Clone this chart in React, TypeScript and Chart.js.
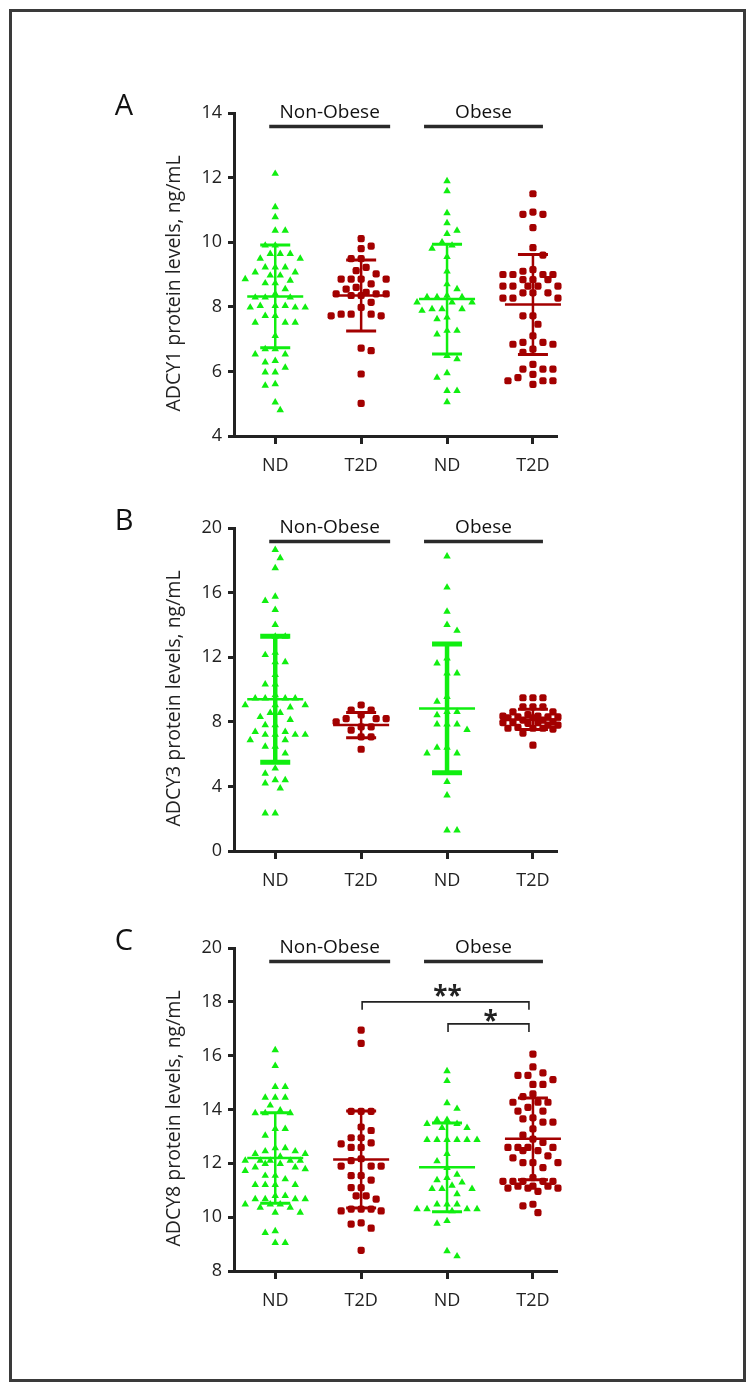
import React, { useEffect, useRef } from 'react';
import { Chart, registerables } from 'chart.js';

Chart.register(...registerables);

// ---------- categories / labels ----------
const categories = ['ND', 'T2D', 'ND', 'T2D'];
const categoryPositions = [1, 2, 3, 4];
const obesityGroups = ['Non-Obese', 'Obese'];

// ---------- Panel A: ADCY1 ----------
const adcy1NdNonObese = [12.12, 11.09, 10.78, 10.36, 10.36, 9.9, 9.9, 9.64, 9.64, 9.64, 9.49, 9.49, 9.22, 9.22, 9.22, 9.07, 9.07, 8.97, 8.97, 8.86, 8.81, 8.73, 8.73, 8.55, 8.4, 8.29, 8.29, 8.29, 8.03, 8.03, 8.03, 7.98, 7.98, 7.98, 7.72, 7.72, 7.51, 7.51, 7.51, 7.1, 6.69, 6.69, 6.53, 6.53, 6.33, 6.28, 6.12, 5.97, 5.97, 5.61, 5.56, 5.04, 4.8];
const adcy1T2dNonObese = [10.11, 9.88, 9.8, 9.49, 9.49, 9.22, 9.12, 9.02, 8.86, 8.86, 8.86, 8.86, 8.71, 8.6, 8.55, 8.45, 8.4, 8.4, 8.4, 8.35, 8.35, 8.14, 7.98, 7.77, 7.77, 7.77, 7.72, 7.72, 6.72, 6.64, 5.92, 5.01];
const adcy1NdObese = [11.89, 11.58, 10.9, 10.59, 10.36, 10.26, 10.0, 9.9, 9.8, 9.55, 9.1, 8.7, 8.55, 8.35, 8.3, 8.3, 8.3, 8.14, 8.14, 8.14, 7.93, 7.93, 7.93, 7.88, 7.67, 7.62, 7.26, 7.26, 7.15, 6.48, 6.38, 5.95, 5.81, 5.4, 5.4, 5.05];
const adcy1T2dObese = [11.5, 10.93, 10.86, 10.86, 10.45, 9.83, 9.6, 9.15, 9.1, 9.0, 9.0, 9.0, 9.0, 9.0, 8.84, 8.84, 8.84, 8.64, 8.64, 8.64, 8.64, 8.64, 8.43, 8.43, 8.43, 8.27, 8.27, 8.27, 7.72, 7.72, 7.46, 7.1, 6.9, 6.9, 6.84, 6.84, 6.69, 6.59, 6.22, 6.07, 6.07, 6.07, 5.91, 5.81, 5.71, 5.71, 5.71, 5.71, 5.6];
const adcy1Means = [8.32, 8.35, 8.24, 8.07];
const adcy1Sds = [1.59, 1.1, 1.7, 1.55];

// ---------- Panel B: ADCY3 ----------
const adcy3NdNonObese = [18.65, 18.14, 17.52, 15.76, 15.49, 14.93, 14.0, 13.28, 13.28, 12.28, 12.14, 11.7, 11.7, 10.9, 10.32, 10.32, 9.66, 9.45, 9.45, 9.45, 9.45, 9.04, 9.04, 9.04, 8.9, 8.55, 8.55, 8.3, 8.12, 7.8, 7.8, 7.38, 7.38, 7.2, 7.2, 7.2, 7.2, 6.87, 6.87, 6.46, 6.46, 6.04, 5.11, 4.8, 4.39, 4.39, 4.19, 3.88, 2.33, 2.33];
const adcy3T2dNonObese = [9.04, 8.73, 8.73, 8.42, 8.2, 8.2, 8.2, 8.0, 7.69, 7.69, 7.49, 7.07, 7.07, 6.3];
const adcy3NdObese = [18.24, 16.32, 14.83, 14.0, 13.64, 11.93, 11.62, 11.0, 11.0, 9.55, 9.25, 8.62, 8.62, 8.42, 7.84, 7.84, 7.84, 7.5, 6.4, 6.4, 6.05, 6.05, 4.28, 3.45, 1.28, 1.28];
const adcy3T2dObese = [9.49, 9.49, 9.49, 8.93, 8.93, 8.93, 8.62, 8.62, 8.5, 8.45, 8.35, 8.35, 8.3, 8.3, 8.3, 8.25, 8.25, 8.1, 8.1, 8.0, 8.0, 7.95, 7.95, 7.95, 7.9, 7.8, 7.8, 7.65, 7.6, 7.6, 7.6, 7.55, 7.3, 7.3, 6.55];
const adcy3Means = [9.39, 7.8, 8.83, 8.15];
const adcy3Sds = [3.9, 0.78, 3.99, 0.62];

// ---------- Panel C: ADCY8 ----------
const adcy8NdNonObese = [16.21, 15.62, 14.84, 14.84, 14.44, 14.44, 14.44, 14.15, 13.97, 13.87, 13.87, 13.87, 13.28, 13.28, 13.03, 12.57, 12.57, 12.45, 12.45, 12.35, 12.35, 12.25, 12.1, 12.1, 12.1, 12.1, 12.1, 11.98, 11.98, 11.85, 11.85, 11.79, 11.72, 11.54, 11.54, 11.41, 11.2, 11.2, 11.2, 11.2, 10.79, 10.79, 10.67, 10.67, 10.67, 10.67, 10.48, 10.48, 10.48, 10.36, 10.36, 10.17, 10.17, 9.48, 9.42, 9.05, 9.05];
const adcy8T2dNonObese = [16.95, 16.46, 13.93, 13.93, 13.93, 13.35, 13.22, 12.95, 12.95, 12.76, 12.72, 12.59, 12.59, 12.17, 12.1, 11.9, 11.9, 11.9, 11.54, 11.54, 11.38, 11.1, 11.1, 10.79, 10.79, 10.67, 10.3, 10.3, 10.3, 10.23, 10.23, 9.79, 9.74, 9.59, 8.77];
const adcy8NdObese = [15.43, 15.06, 14.24, 14.03, 13.62, 13.62, 13.47, 13.47, 13.32, 13.32, 12.87, 12.87, 12.87, 12.87, 12.87, 12.87, 12.35, 12.08, 11.83, 11.58, 11.46, 11.38, 11.29, 11.17, 11.05, 11.05, 11.05, 10.86, 10.48, 10.48, 10.48, 10.3, 10.3, 10.3, 10.3, 10.23, 9.86, 9.76, 8.74, 8.55];
const adcy8T2dObese = [16.06, 15.58, 15.36, 15.27, 15.27, 15.11, 14.93, 14.93, 14.58, 14.48, 14.27, 14.27, 14.27, 14.08, 13.94, 13.94, 13.69, 13.65, 13.53, 13.53, 13.28, 13.05, 12.9, 12.78, 12.59, 12.59, 12.59, 12.59, 12.53, 12.47, 12.47, 12.28, 12.2, 12.03, 12.03, 12.03, 11.84, 11.47, 11.33, 11.33, 11.33, 11.33, 11.33, 11.33, 11.15, 11.15, 11.15, 11.08, 11.08, 11.08, 10.96, 10.48, 10.42, 10.17];
const adcy8Means = [12.2, 12.14, 11.85, 12.91];
const adcy8Sds = [1.68, 1.8, 1.65, 1.52];
// significance brackets
const adcy8BracketFrom = [2, 3];
const adcy8BracketTo = [4, 4];
const adcy8BracketY = [18.0, 17.18];
const adcy8BracketLabel = ['**', '*'];

// ---------- styling ----------
const GREEN = '#10ee10';
const RED = '#a30000';
const INK = '#222222';
const FONT = "'Open Sans', 'Noto Sans', sans-serif";
const X_MIN = 0.52;
const X_MAX = 4.28;
const CANVAS_W = 755;
const CANVAS_H = 420;
const PAD_TOP = 28;
const X_AXIS_H = 69;
const Y_AXIS_W = 234;
const PAD_RIGHT = 755 - 557;
const PLOT_H = CANVAS_H - PAD_TOP - X_AXIS_H;
const PLOT_W = CANVAS_W - PAD_RIGHT - Y_AXIS_W;

type PanelDef = {
  letter: string;
  yTitle: string;
  min: number;
  max: number;
  step: number;
  groups: number[][];
  means: number[];
  sds: number[];
  brackets: { from: number; to: number; y: number; label: string }[];
  top: number;
  heavyGreen: boolean;
};

const PANELS: PanelDef[] = [
  {
    letter: 'A', yTitle: 'ADCY1 protein levels, ng/mL', min: 4, max: 14, step: 2,
    groups: [adcy1NdNonObese, adcy1T2dNonObese, adcy1NdObese, adcy1T2dObese],
    means: adcy1Means, sds: adcy1Sds, brackets: [], top: 85, heavyGreen: false,
  },
  {
    letter: 'B', yTitle: 'ADCY3 protein levels, ng/mL', min: 0, max: 20, step: 4,
    groups: [adcy3NdNonObese, adcy3T2dNonObese, adcy3NdObese, adcy3T2dObese],
    means: adcy3Means, sds: adcy3Sds, brackets: [], top: 500, heavyGreen: true,
  },
  {
    letter: 'C', yTitle: 'ADCY8 protein levels, ng/mL', min: 8, max: 20, step: 2,
    groups: [adcy8NdNonObese, adcy8T2dNonObese, adcy8NdObese, adcy8T2dObese],
    means: adcy8Means, sds: adcy8Sds,
    brackets: adcy8BracketFrom.map((f, i) => ({ from: f, to: adcy8BracketTo[i], y: adcy8BracketY[i], label: adcy8BracketLabel[i] })),
    top: 920, heavyGreen: false,
  },
];

// beeswarm layout of points (offsets in x-axis units), limited half-width
function swarmOffsets(values: number[], pxPerY: number, pxPerX: number): number[] {
  const d = 9;
  const step = 5;
  const maxHalf = 30;
  const order = values.map((_, i) => i).sort((a, b) => values[b] - values[a]);
  const placed: [number, number][] = [];
  const out = new Array(values.length).fill(0);
  let flip = 1;
  for (const i of order) {
    const py = values[i] * pxPerY;
    const cands: number[] = [0];
    for (let k = 1; k * step <= maxHalf; k++) {
      cands.push(flip * k * step, -flip * k * step);
    }
    let chosen: number | null = null;
    let bestDx = 0;
    let bestDist = -1;
    for (const dx of cands) {
      let minD = Infinity;
      for (const [qx, qy] of placed) {
        const dd = Math.hypot(qx - dx, qy - py);
        if (dd < minD) minD = dd;
      }
      if (minD >= d) { chosen = dx; break; }
      if (minD > bestDist + 0.01) { bestDist = minD; bestDx = dx; }
    }
    const dx = chosen === null ? bestDx : chosen;
    placed.push([dx, py]);
    out[i] = dx / pxPerX;
    if (dx !== 0) flip = -flip;
  }
  return out;
}

function centerText(ctx: CanvasRenderingContext2D, text: string, x: number, cy: number) {
  const m = ctx.measureText(text);
  const base = cy + (m.actualBoundingBoxAscent - m.actualBoundingBoxDescent) / 2;
  ctx.fillText(text, x, base);
}

function makeAnnot(def: PanelDef) {
  return {
    id: 'annot' + def.letter,
    afterDatasetsDraw(chart: any) {
      const { ctx, scales } = chart;
      const x = scales.x;
      const y = scales.y;
      ctx.save();
      ctx.lineCap = 'butt';
      def.means.forEach((m: number, i: number) => {
        const cx = x.getPixelForValue(categoryPositions[i]);
        const green = i % 2 === 0;
        const heavy = def.heavyGreen && green;
        const yM = y.getPixelForValue(m);
        const yU = y.getPixelForValue(m + def.sds[i]);
        const yL = y.getPixelForValue(m - def.sds[i]);
        ctx.strokeStyle = green ? GREEN : RED;
        ctx.lineWidth = heavy ? 4.5 : 2.5;
        ctx.beginPath();
        ctx.moveTo(cx, yU);
        ctx.lineTo(cx, yL);
        ctx.stroke();
        ctx.lineWidth = heavy ? 5 : 3;
        ctx.beginPath();
        ctx.moveTo(cx - 15, yU); ctx.lineTo(cx + 15, yU);
        ctx.moveTo(cx - 15, yL); ctx.lineTo(cx + 15, yL);
        ctx.stroke();
        ctx.lineWidth = 2.5;
        ctx.beginPath();
        ctx.moveTo(cx - 28, yM); ctx.lineTo(cx + 28, yM);
        ctx.stroke();
      });
      ctx.restore();
    },
    afterDraw(chart: any) {
      const { ctx, chartArea, scales } = chart;
      const x = scales.x;
      const y = scales.y;
      const T = chartArea.top;
      ctx.save();
      ctx.fillStyle = '#111';
      ctx.textAlign = 'center';
      // panel letter
      ctx.font = `29px ${FONT}`;
      centerText(ctx, def.letter, 124, T - 9);
      // group headers
      const spans = [
        [x.getPixelForValue(1) - 6, x.getPixelForValue(2) + 29],
        [x.getPixelForValue(3) - 23, x.getPixelForValue(4) + 10],
      ];
      ctx.font = `19px ${FONT}`;
      ctx.strokeStyle = '#2a2a2a';
      ctx.lineWidth = 3.5;
      obesityGroups.forEach((g, i) => {
        const [a, b] = spans[i];
        ctx.fillText(g, (a + b) / 2, T + 5.3);
        ctx.beginPath();
        ctx.moveTo(a, T + 13.5);
        ctx.lineTo(b, T + 13.5);
        ctx.stroke();
      });
      // y title
      ctx.save();
      ctx.translate(175, (chartArea.top + chartArea.bottom) / 2 + 9);
      ctx.rotate(-Math.PI / 2);
      ctx.font = `19.5px ${FONT}`;
      ctx.fillStyle = INK;
      centerText(ctx, def.yTitle, 0, 0);
      ctx.restore();
      // brackets
      def.brackets.forEach((br) => {
        const a = x.getPixelForValue(br.from) + 1;
        const b = x.getPixelForValue(br.to) - 4;
        const yy = y.getPixelForValue(br.y);
        ctx.strokeStyle = INK;
        ctx.lineWidth = 1.6;
        ctx.beginPath();
        ctx.moveTo(a, yy + 8);
        ctx.lineTo(a, yy);
        ctx.lineTo(b, yy);
        ctx.lineTo(b, yy + 8);
        ctx.stroke();
        ctx.font = `bold 26px ${FONT}`;
        ctx.fillStyle = INK;
        centerText(ctx, br.label, (a + b) / 2 + 2, yy - (br.label.length > 1 ? 11 : 8));
      });
      ctx.restore();
    },
  };
}

function Panel({ def }: { def: PanelDef }) {
  const ref = useRef<HTMLCanvasElement>(null);
  useEffect(() => {
    const canvas = ref.current;
    if (!canvas) return;
    const pxPerY = PLOT_H / (def.max - def.min);
    const pxPerX = PLOT_W / (X_MAX - X_MIN);
    const datasets = def.groups.map((vals, i) => {
      const offs = swarmOffsets(vals, pxPerY, pxPerX);
      const green = i % 2 === 0;
      return {
        label: categories[i],
        data: vals.map((v, j) => ({ x: categoryPositions[i] + offs[j], y: v })),
        pointStyle: green ? 'triangle' : 'rectRounded',
        pointRadius: green ? 4.3 : 4.2,
        backgroundColor: green ? GREEN : RED,
        borderColor: green ? GREEN : RED,
        borderWidth: 0,
        showLine: false,
        clip: false as any,
      };
    });
    const chart = new Chart(canvas, {
      type: 'scatter',
      data: { datasets: datasets as any },
      options: {
        responsive: false,
        animation: false,
        events: [],
        layout: { padding: { top: PAD_TOP, right: PAD_RIGHT, bottom: 0, left: 0 } },
        plugins: { legend: { display: false }, tooltip: { enabled: false } },
        scales: {
          x: {
            type: 'linear',
            min: X_MIN,
            max: X_MAX,
            afterBuildTicks: (s: any) => { s.ticks = categoryPositions.map((v) => ({ value: v })); },
            afterFit: (s: any) => { s.height = X_AXIS_H; },
            ticks: {
              callback: (v: any) => categories[Math.round(Number(v)) - 1] ?? '',
              padding: 11,
              autoSkip: false,
              maxRotation: 0,
              font: { family: FONT, size: 18 },
              color: INK,
            },
            grid: { drawOnChartArea: false, drawTicks: true, tickLength: 8, tickWidth: 3, tickColor: INK },
            border: { display: true, width: 3, color: INK },
          },
          y: {
            type: 'linear',
            min: def.min,
            max: def.max,
            afterFit: (s: any) => { s.width = Y_AXIS_W; },
            ticks: { stepSize: def.step, padding: 6, font: { family: FONT, size: 18 }, color: INK },
            grid: { drawOnChartArea: false, drawTicks: true, tickLength: 6, tickWidth: 3, tickColor: INK },
            border: { display: true, width: 3, color: INK },
          },
        },
      } as any,
      plugins: [makeAnnot(def)],
    });
    return () => chart.destroy();
  }, [def]);
  return (
    <canvas
      ref={ref}
      width={CANVAS_W}
      height={CANVAS_H}
      style={{ position: 'absolute', left: 0, top: def.top, width: CANVAS_W, height: CANVAS_H }}
    />
  );
}

export default function App() {
  return (
    <div style={{ position: 'absolute', left: 0, top: 0, width: 755, height: 1398, background: '#fff' }}>
      <div
        style={{
          position: 'absolute', left: 9, top: 9, width: 737, height: 1373,
          border: '3px solid #3a3a3a', boxSizing: 'border-box',
        }}
      />
      {PANELS.map((p) => (
        <Panel key={p.letter} def={p} />
      ))}
    </div>
  );
}
